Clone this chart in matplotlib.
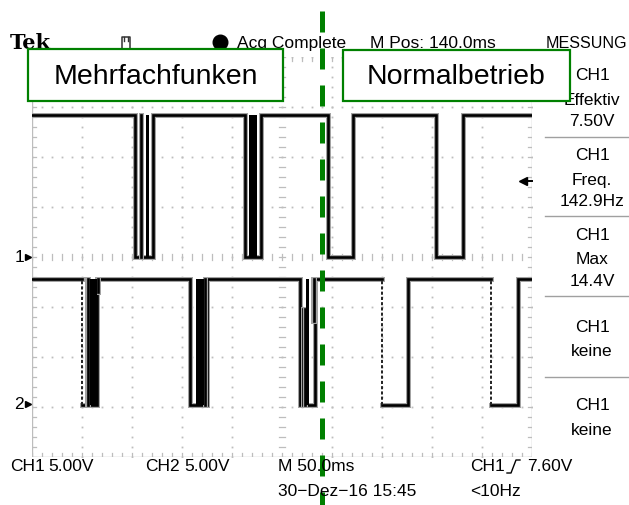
import numpy as np
import matplotlib
matplotlib.use('Agg')
import matplotlib.pyplot as plt
import matplotlib.patheffects as pe
from matplotlib.patches import Rectangle

# scope settings
volts_per_div = 5.0
ch1_ref = 0.0      # div, marker "1"
ch2_ref = -2.96    # div, marker "2"
ch1_high = 14.2    # V
ch2_high = 12.6    # V

# low phases of every pulse, (start, end) in ms from the left screen edge (50 ms/div)
ch1_pulses = [(102.5, 121.0), (212.5, 229.0), (295.5, 321.0), (404.0, 431.0)]
ch2_pulses = [(49.5, 64.5), (157.5, 174.5), (267.5, 283.0), (349.7, 376.0), (458.5, 485.7)]
ch2_dotted = [49.5, 349.7, 458.5]   # fast falling edges, drawn dotted

# extra sweeps inside the multi-spark bursts: (t, from, to), 0 = low, 1 = high
ch1_strokes = [(108.5, 0, 1)]
ch1_blocks = [(114.0, 116.5), (216.5, 225.0)]
ch2_strokes = [(54.5, 0, 1), (56.2, 0, 1), (65.8, 0.9, 1), (173.0, 0, 1),
               (270.8, 0, 0.76), (272.6, 0, 0.76), (280.6, 0.67, 1), (282.2, 0.67, 1)]
ch2_blocks = [(58.0, 64.5), (163.5, 171.5), (274.0, 277.0)]

header = [("Acq Complete", 237, 12.5), ("M Pos: 140.0ms", 370, 12.5), ("MESSUNG", 546, 11.6)]
meas = [(["CH1", "Effektiv", "7.50V"], [75, 100, 121]),
        (["CH1", "Freq.", "142.9Hz"], [155, 180, 202]),
        (["CH1", "Max", "14.4V"], [235, 259, 282]),
        (["CH1", "keine"], [327, 352]),
        (["CH1", "keine"], [406, 431])]
meas_sep = [138, 217, 297, 378]
footer = [("CH1", 10, 467), ("5.00V", 48, 467), ("CH2", 145, 467), ("5.00V", 184, 467),
          ("M 50.0ms", 278, 467), ("CH1", 470, 467), ("7.60V", 527, 467),
          ("30\u2212Dez\u221216 15:45", 278, 492), ("<10Hz", 470, 492)]

W, H = 629, 506
fig = plt.figure(figsize=(W / 100, H / 100), dpi=100)
fig.patch.set_facecolor('white')

ax = fig.add_axes([32 / W, (H - 458) / H, 500 / W, 400 / H])
ax.set_xlim(0, 500)
ax.set_ylim(-4, 4)
ax.axis('off')

grid_c = '#bdbdbd'
# dotted division lines
for gx in range(50, 500, 50):
    if gx == 250:
        continue
    ys = np.arange(-4, 4.01, 0.2)
    ax.plot(np.full_like(ys, gx), ys, ls='none', marker='s', ms=1.3, mew=0, color=grid_c)
for gy in [-3, -2, -1, 1, 2, 3, 4]:
    xs = np.arange(0, 501, 10)
    ax.plot(xs, np.full_like(xs, gy, dtype=float), ls='none', marker='s', ms=1.3, mew=0, color=grid_c)
# center cross and screen border with minor ticks
for yy in np.arange(-4, 4.01, 0.2):
    ax.plot([247, 253], [yy, yy], color=grid_c, lw=0.9)
    ax.plot([0, 4], [yy, yy], color=grid_c, lw=0.9)
    ax.plot([496, 500], [yy, yy], color=grid_c, lw=0.9)
for xx in np.arange(0, 501, 10):
    ax.plot([xx, xx], [-0.06, 0.06], color=grid_c, lw=0.9)
    ax.plot([xx, xx], [-4, -3.92], color=grid_c, lw=0.9)
    ax.plot([xx, xx], [4, 3.92], color=grid_c, lw=0.9)
ax.plot([0, 0], [-4, 4], color=grid_c, lw=1.0)
ax.plot([500, 500], [-4, 4], color=grid_c, lw=1.0)
ax.plot([0, 500], [-4, -4], color=grid_c, lw=1.0)

halo = [pe.Stroke(linewidth=3.6, foreground='#a3a3a3'), pe.Normal()]


def trace(pulses, ref, high_v, dotted, strokes, blocks):
    lo = ref
    hi = ref + high_v / volts_per_div
    t, v = [0], [hi]
    for a, b in pulses:
        if a in dotted:
            t += [a, np.nan, a]
            v += [hi, np.nan, lo]
        else:
            t += [a, a]
            v += [hi, lo]
        t += [b, b]
        v += [lo, hi]
    t.append(500)
    v.append(hi)
    ax.plot(t, v, color='black', lw=1.9, solid_joinstyle='miter', path_effects=halo, zorder=4)
    for a in dotted:
        ax.plot([a, a], [lo, hi], color='#222222', lw=1.4, dashes=(1.6, 1.1), zorder=4)
    for s, f0, f1 in strokes:
        ax.plot([s, s], [lo + f0 * (hi - lo), lo + f1 * (hi - lo)], color='black', lw=1.9,
                path_effects=halo, zorder=4)
    for a, b in blocks:
        ax.fill_between([a, b], lo, hi, color='black', lw=0, zorder=4)


trace(ch1_pulses, ch1_ref, ch1_high, [], ch1_strokes, ch1_blocks)
trace(ch2_pulses, ch2_ref, ch2_high, ch2_dotted, ch2_strokes, ch2_blocks)

# overlay in pixel coordinates for the screen annotations
ov = fig.add_axes([0, 0, 1, 1], zorder=3)
ov.set_xlim(0, W)
ov.set_ylim(H, 0)
ov.axis('off')
ov.patch.set_alpha(0)

sf = ['Liberation Sans', 'DejaVu Sans']
fs = 12.5
ov.text(10, 43, "Tek", family='DejaVu Serif', weight='bold', fontsize=15, va='center', ha='left')
ov.plot([122, 122, 130, 130], [50, 38, 38, 50], color='#333333', lw=1.1)
ov.plot([124, 124], [38, 42], color='#333333', lw=1.0)
ov.plot([128, 128], [38, 42], color='#333333', lw=1.0)
ov.plot([220], [43], marker='o', ms=10.5, color='black')
for s, x, size in header:
    ov.text(x, 43, s, family=sf, fontsize=size, va='center', ha='left')

for lines, ys in meas:
    for s, y in zip(lines, ys):
        ov.text(592, y, s, family=sf, fontsize=fs, va='center', ha='center')
for y in meas_sep:
    ov.plot([545, 629], [y, y], color='#a0a0a0', lw=1.0)

for s, x, y in footer:
    ov.text(x, y, s, family=sf, fontsize=fs, va='center', ha='left')
ov.plot([507, 511, 516, 520], [474, 474, 461, 461], color='black', lw=1.0)

# channel markers and trigger level arrow
ov.text(24, 258, "1", family=sf, fontsize=fs, va='center', ha='right')
ov.plot([28], [258], marker='>', ms=4.5, color='black')
ov.text(24, 405, "2", family=sf, fontsize=fs, va='center', ha='right')
ov.plot([28], [405], marker='>', ms=4.5, color='black')
ov.plot([523, 532], [182, 182], color='black', lw=1.4)
ov.plot([523], [182], marker='<', ms=6, color='black')

green = '#008000'
ov.plot([321.5, 321.5], [12, 506], color=green, lw=3.6, dashes=(4.2, 3.2), dash_capstyle='butt')
ov.add_patch(Rectangle((28, 50), 255, 52, facecolor='white', edgecolor=green, lw=1.6, zorder=5))
ov.add_patch(Rectangle((343, 51), 227, 51, facecolor='white', edgecolor=green, lw=1.6, zorder=5))
ov.text(155.5, 77, "Mehrfachfunken", family=sf, fontsize=20.5, va='center', ha='center', zorder=6)
ov.text(456.5, 77, "Normalbetrieb", family=sf, fontsize=20.5, va='center', ha='center', zorder=6)

fig.savefig('out.png', dpi=100, facecolor='white')
